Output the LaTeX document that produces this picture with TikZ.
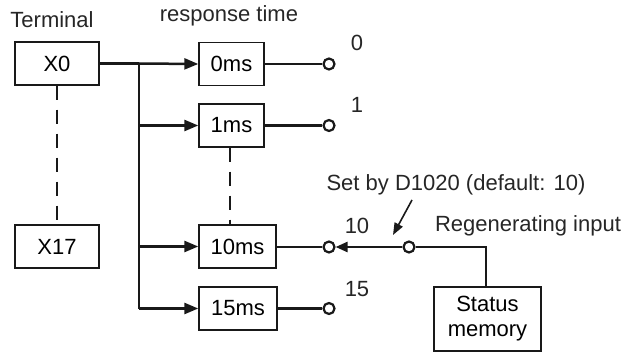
\documentclass[tikz,border=0pt]{standalone}
\usepackage{fontspec}
\setmainfont{Liberation Sans}
\usetikzlibrary{arrows.meta}
\begin{document}
\begin{tikzpicture}[x=1pt,y=-1pt,
  font=\fontsize{22}{26}\selectfont,
  box/.style={draw=black!90, line width=1.4pt, fill=white, inner sep=0pt, minimum height=43pt},
  wire/.style={line width=2.5pt, black!90},
  arr/.style={wire, -{Triangle[length=14pt,width=11pt]}},
  dashline/.style={line width=2.4pt, black!90, dash pattern=on 14pt off 10pt},
  term/.style={circle, draw=black!90, line width=2.2pt, fill=white, inner sep=0pt, minimum size=11pt},
  lbl/.style={anchor=base, inner sep=0pt, text=black!85}
]
\useasboundingbox (0,0) rectangle (627,353);

% boxes
\node[box, minimum width=84pt] (x0) at (57,63.5) {X0};
\node[box, minimum width=84pt] (x17) at (57,246.5) {X17};
\node[box, minimum width=65pt] (t0) at (231.5,64) {0ms};
\node[box, minimum width=65pt] (t1) at (231.5,125.5) {1ms};
\node[box, minimum width=77pt] (t10) at (237.5,246.5) {10ms};
\node[box, minimum width=78pt] (t15) at (238,308.5) {15ms};
\node[box, minimum width=107pt, minimum height=64pt, align=center, font=\fontsize{22}{25}\selectfont] (sm) at (487.5,319) {Status\\memory};

% labels
\node[lbl] (lterm) at (52,27.7) {Terminal};
\node[lbl] (lresp) at (229,21.7) {response time};
\node[lbl] (l0) at (357,50.7) {0};
\node[lbl] (l1) at (357,113) {1};
\node[lbl] (l10) at (357,233) {10};
\node[lbl] (l15) at (357,296) {15};
\node[lbl] (lset) at (456,190.5) {Set by D1020 (default: 10)};
\node[lbl] (lreg) at (528,231.7) {Regenerating input};

% bus
\coordinate (btop) at (139,63.5);
\coordinate (b1) at (139,125.5);
\coordinate (b10) at (139,246.5);
\coordinate (b15) at (139,308.5);

% dashed
\draw[dashline] (x0.south) -- (x17.north);
\draw[dashline] (t1.south -| 230,0) -- (t10.north -| 230,0);

% terminals
\node[term] (c0) at (329,64) {};
\node[term] (c1) at (329,125.5) {};
\node[term] (c10) at (329,247) {};
\node[term] (c15) at (329,308.5) {};
\node[term] (cr) at (409,247) {};
\coordinate (corner) at (486,247);

% wires
\draw[wire] (x0.east) -- (btop);
\draw[wire] (btop) -- (b15);
\draw[arr] (btop) -- (t0.west);
\draw[arr] (b1) -- (t1.west);
\draw[arr] (b10) -- (t10.west);
\draw[arr] (b15) -- (t15.west);
\draw[wire] (t0.east) -- (c0.west);
\draw[wire] (t1.east) -- (c1.west);
\draw[wire] (t10.east |- c10) -- (c10.west);
\draw[wire] (t15.east) -- (c15.west);
\draw[wire, -{Triangle[length=12pt,width=10pt]}] (cr.west) -- (c10.east);
\draw[wire] (cr.east) -- (corner) -- (sm.north -| corner);

% set-by arrow
\coordinate (sa) at (412,200);
\coordinate (sb) at (393,235);
\draw[line width=1.6pt, black!90, -{Triangle[length=12pt,width=9pt]}] (sa) -- (sb);
\end{tikzpicture}
\end{document}
